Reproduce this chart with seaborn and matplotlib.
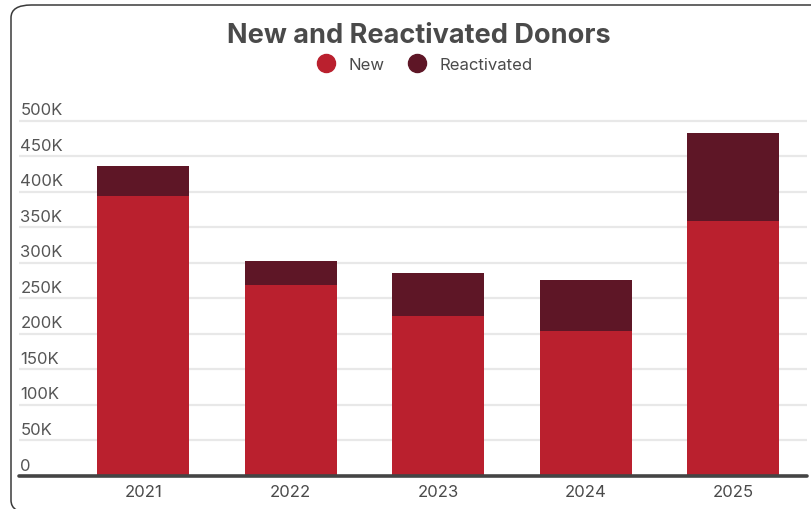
import matplotlib
matplotlib.use("Agg")
import matplotlib.pyplot as plt
import matplotlib.transforms as mtransforms
from matplotlib.patches import FancyBboxPatch
from matplotlib.lines import Line2D
import seaborn as sns
import pandas as pd

# Donor counts by year (thousands)
years = ["2021", "2022", "2023", "2024", "2025"]
new_donors = [394, 269, 224.5, 204, 359]
reactivated_donors = [41.5, 33.5, 61, 71, 123]
y_ticks = [0, 50, 100, 150, 200, 250, 300, 350, 400, 450, 500]
y_tick_labels = ["0", "50K", "100K", "150K", "200K", "250K", "300K", "350K", "400K", "450K", "500K"]

NEW_COLOR = "#BA202E"
REACT_COLOR = "#5E1626"
TEXT_COLOR = "#4A4A4A"
FONT = "Inter"

sns.set_theme(style="white")
plt.rcParams["font.family"] = [FONT, "DejaVu Sans"]

df = pd.DataFrame({
    "year": years,
    "new": new_donors,
    "total": [n + r for n, r in zip(new_donors, reactivated_donors)],
})

W, H = 812, 510
fig = plt.figure(figsize=(W / 100, H / 100), dpi=100)

# Rounded card frame (runs past the right and bottom edges)
frame = FancyBboxPatch((11 / W, -4 / H), 840 / W, 508 / H,
                       boxstyle="round,pad=0,rounding_size=0.025",
                       transform=fig.transFigure, facecolor="none",
                       edgecolor="#3A3A3A", linewidth=1.1, zorder=-1)
fig.patches.append(frame)

ymax = 520
y0_px, px_per_k = 477, 0.711
top_px = y0_px - ymax * px_per_k
ax = fig.add_axes([19 / W, (H - y0_px) / H, (807 - 19) / W, (y0_px - top_px) / H])
ax.set_facecolor("none")

# Stacked bars: totals (reactivated on top) then new donors over them
sns.barplot(data=df, x="year", y="total", color=REACT_COLOR, width=0.625,
            saturation=1, linewidth=0, ax=ax, zorder=3)
sns.barplot(data=df, x="year", y="new", color=NEW_COLOR, width=0.625,
            saturation=1, linewidth=0, ax=ax, zorder=4)

ax.set_xlim(-0.843, 4.5)
ax.set_ylim(0, ymax)
for t in y_ticks[1:]:
    ax.axhline(t, color="#E8E8E8", linewidth=1.6, zorder=1)
ax.axhline(0, color="#444444", linewidth=2.6, zorder=5, clip_on=False)

ax.set_yticks([])
ax.set_xlabel("")
ax.set_ylabel("")
for s in ax.spines.values():
    s.set_visible(False)
ax.tick_params(axis="x", length=0, pad=6, labelsize=12, labelcolor=TEXT_COLOR)
for lbl in ax.get_xticklabels():
    lbl.set_fontfamily([FONT, "DejaVu Sans"])

# Y labels sit above their gridlines at the left edge
lbl_tf = mtransforms.offset_copy(ax.get_yaxis_transform(), fig=fig, x=1, y=2.5, units="points")
for t, s in zip(y_ticks, y_tick_labels):
    ax.text(0, t, s, transform=lbl_tf, ha="left", va="bottom",
            fontsize=12, color="#555555", zorder=6)

fig.text(419 / W, 1 - 36 / H, "New and Reactivated Donors", ha="center", va="center",
         fontsize=19.5, fontweight="bold", color=TEXT_COLOR)

handles = [Line2D([], [], marker="o", linestyle="", markersize=13, color=NEW_COLOR),
           Line2D([], [], marker="o", linestyle="", markersize=13, color=REACT_COLOR)]
fig.legend(handles, ["New", "Reactivated"], loc="center", bbox_to_anchor=(421 / W, 1 - 65 / H),
           ncol=2, frameon=False, fontsize=12, handletextpad=0.3, columnspacing=1.0,
           labelcolor=TEXT_COLOR)

fig.savefig("out.png", dpi=100)
